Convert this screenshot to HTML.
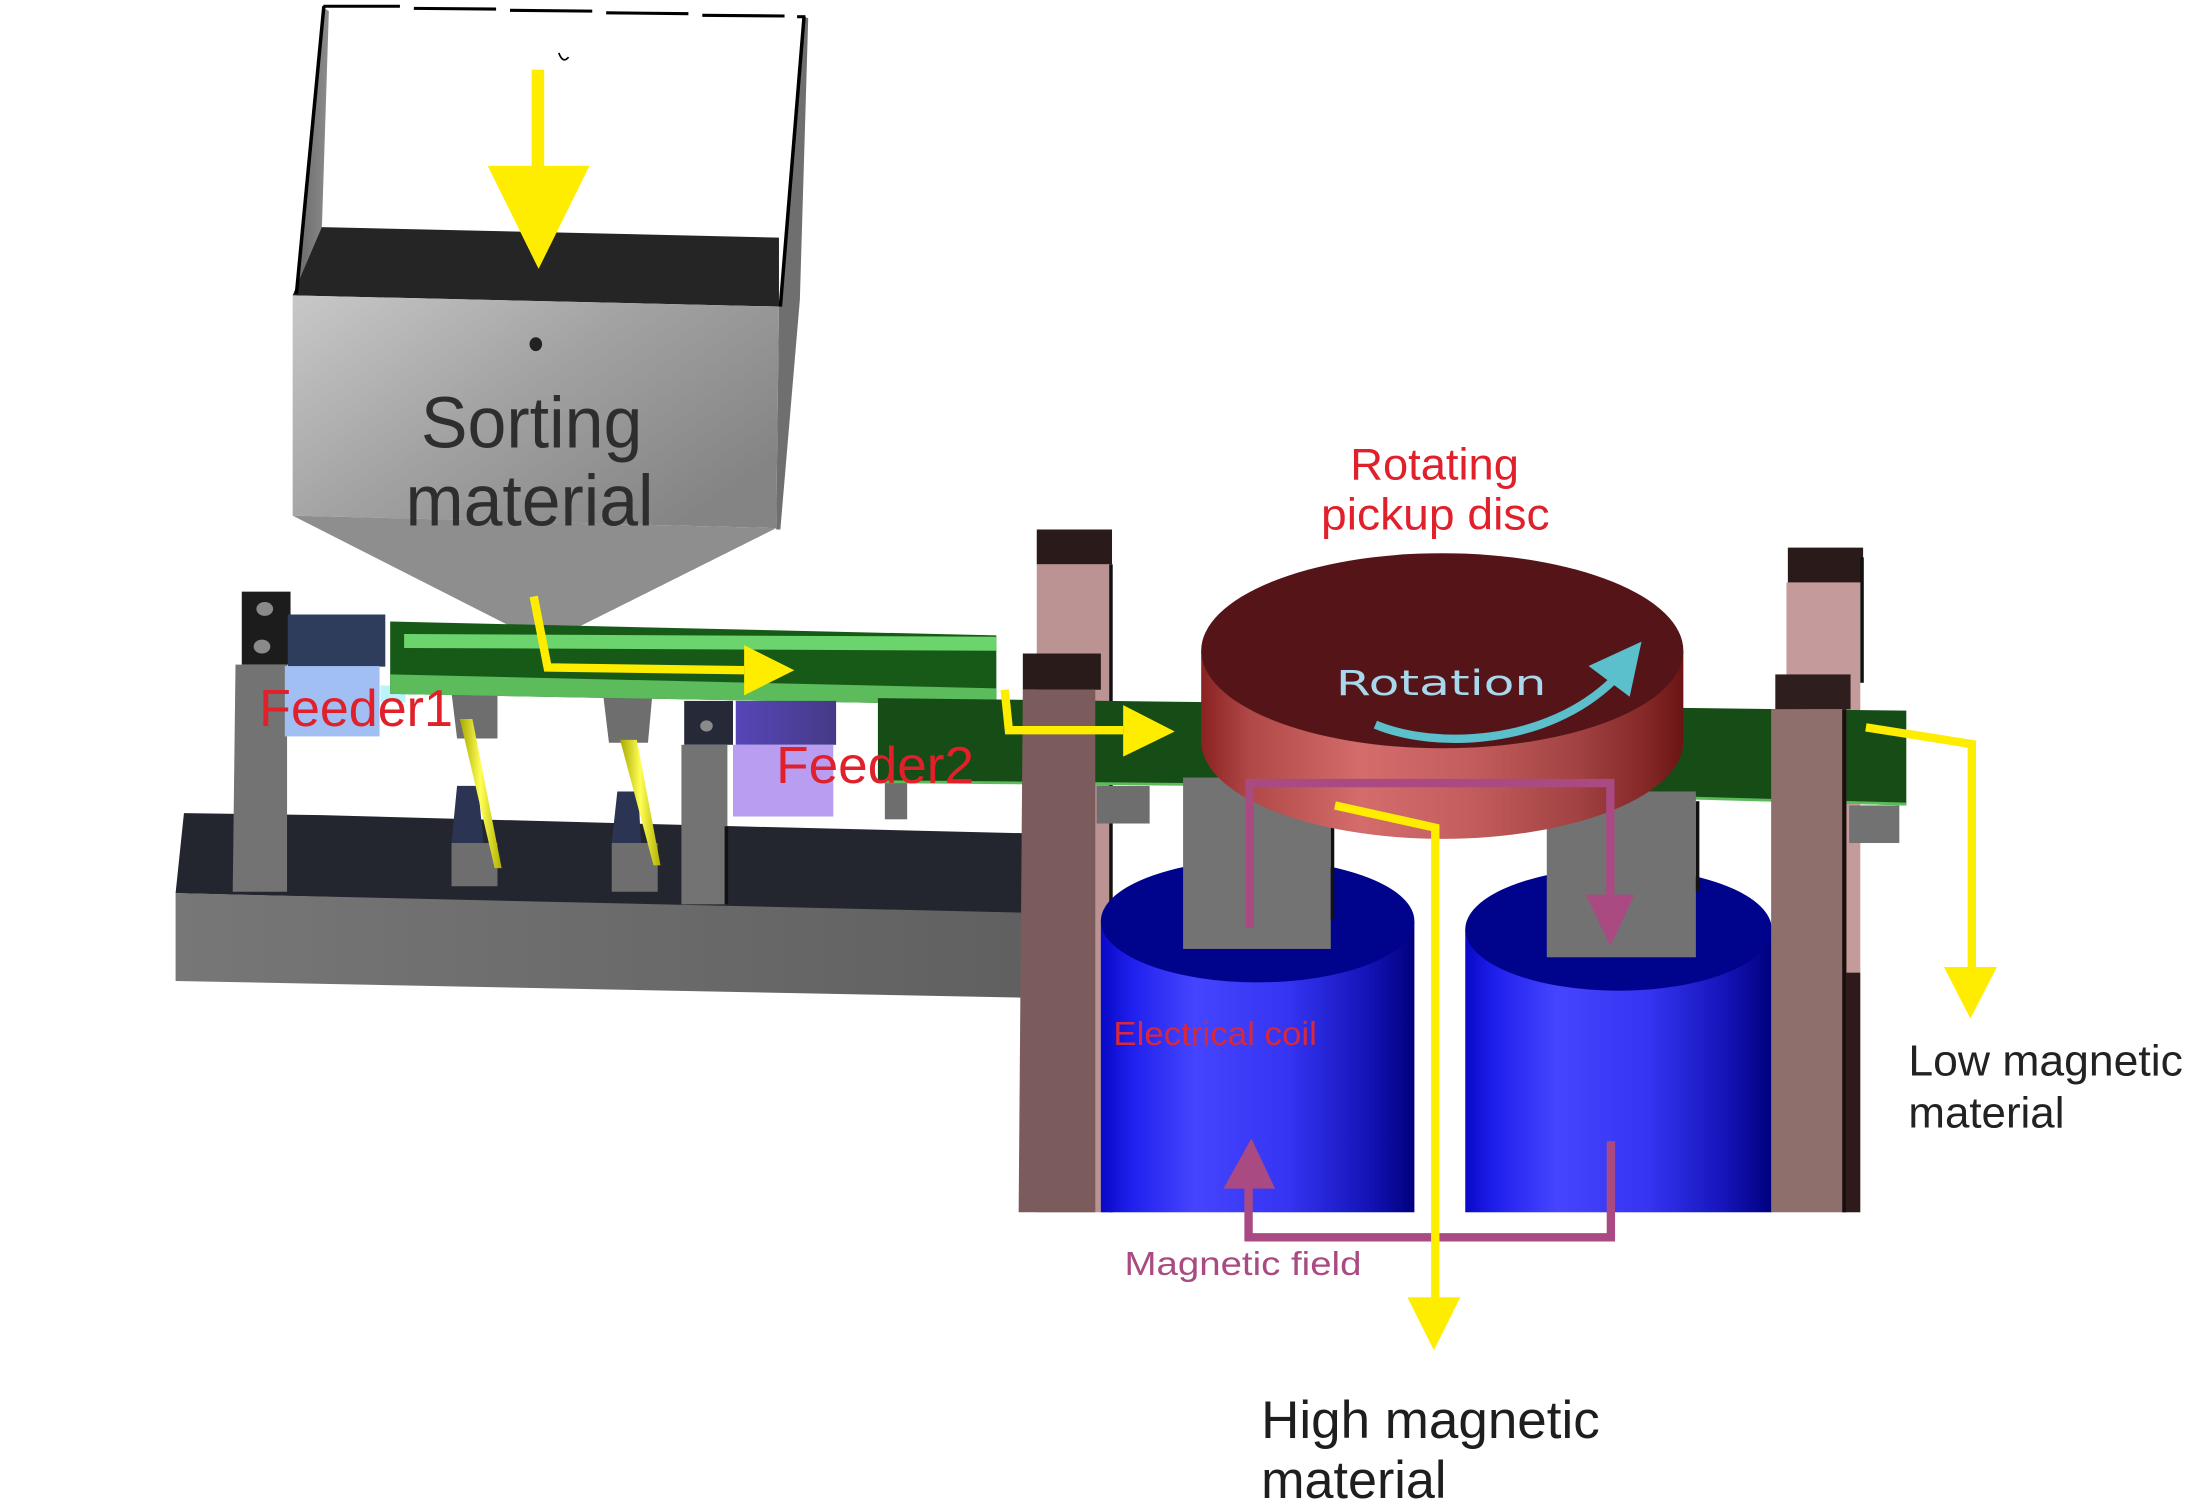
<!DOCTYPE html>
<html><head><meta charset="utf-8"><style>html,body{margin:0;padding:0;background:#fff;}svg{display:block;}</style></head>
<body>
<svg width="2185" height="1501" viewBox="0 0 1568 1077.2" preserveAspectRatio="none" xmlns="http://www.w3.org/2000/svg" font-family="'Liberation Sans', Arial, sans-serif">
<defs>
<linearGradient id="gFace" x1="0" y1="0" x2="1" y2="0.7"><stop offset="0" stop-color="#c8c8c8"/><stop offset="0.5" stop-color="#a2a2a2"/><stop offset="1" stop-color="#848484"/></linearGradient>
<linearGradient id="gL" x1="0" y1="0" x2="1" y2="0"><stop offset="0" stop-color="#6a6a6a"/><stop offset="1" stop-color="#8c8c8c"/></linearGradient>
<linearGradient id="gSlab" x1="0" y1="0" x2="1" y2="0"><stop offset="0" stop-color="#777"/><stop offset="1" stop-color="#606060"/></linearGradient>
<linearGradient id="gPin" x1="0" y1="0" x2="1" y2="0"><stop offset="0" stop-color="#a8a800"/><stop offset="0.5" stop-color="#ffff55"/><stop offset="1" stop-color="#b0b000"/></linearGradient>
<linearGradient id="gF2" x1="0" y1="0" x2="1" y2="0"><stop offset="0" stop-color="#5646b8"/><stop offset="1" stop-color="#453a86"/></linearGradient>
<linearGradient id="gDisc" x1="0" y1="0" x2="1" y2="0"><stop offset="0" stop-color="#8a2222"/><stop offset="0.1" stop-color="#b04848"/><stop offset="0.33" stop-color="#d46c6c"/><stop offset="0.55" stop-color="#c45e5e"/><stop offset="0.78" stop-color="#a24242"/><stop offset="0.92" stop-color="#862828"/><stop offset="1" stop-color="#6a1414"/></linearGradient>
<linearGradient id="gCoil" x1="0" y1="0" x2="1" y2="0"><stop offset="0" stop-color="#0808c8"/><stop offset="0.1" stop-color="#2020ee"/><stop offset="0.3" stop-color="#4545ff"/><stop offset="0.6" stop-color="#3434f2"/><stop offset="0.85" stop-color="#1414b8"/><stop offset="1" stop-color="#00007e"/></linearGradient>
</defs>
<rect x="0" y="0" width="1568" height="1078" fill="#fff"/>

<!-- Hopper -->
<polygon points="233,6 236,8 231,163 231,212 213,211" fill="url(#gL)"/>
<polygon points="576,12 580,13 574,215 560,380 557,380 559,220" fill="#6f6f6f"/>
<polygon points="231,163 559,170.5 559,220 210,212" fill="#252525"/>
<polygon points="210,212 559,220 557,379 210,370" fill="url(#gFace)"/>
<polygon points="210,370 557,379 391,462" fill="#8e8e8e"/>
<line x1="232.4" y1="4.5" x2="212.7" y2="211" stroke="#000" stroke-width="2.5"/>
<line x1="577" y1="12" x2="560" y2="220" stroke="#000" stroke-width="2.5"/>
<g stroke="#000" stroke-width="2.2">
<line x1="232" y1="4.5" x2="287" y2="4.5"/>
<line x1="297" y1="6" x2="356" y2="6.5"/>
<line x1="366" y1="7.4" x2="425" y2="8"/>
<line x1="435" y1="9.2" x2="494" y2="9.8"/>
<line x1="504" y1="11" x2="563" y2="11.5"/>
<line x1="572" y1="12" x2="578" y2="12"/>
</g>
<path d="M401,38 Q404,46 408,41" stroke="#000" stroke-width="1.2" fill="none"/>
<ellipse cx="384.5" cy="247" rx="4.5" ry="5" fill="#222"/>
<text x="302" y="321" font-size="52" fill="#2e2e2e" textLength="159" lengthAdjust="spacingAndGlyphs">Sorting</text>
<text x="291" y="377" font-size="52" fill="#2e2e2e" textLength="178" lengthAdjust="spacingAndGlyphs">material</text>
<rect x="381.5" y="50" width="9" height="72" fill="#ffed00"/>
<polygon points="350,119 423,119 386.5,193" fill="#ffed00"/>

<!-- Left machine -->
<polygon points="132,583.5 231,585 528,593 736,598 736,656 126,641" fill="#23262e"/>
<polygon points="126,641 736,655 736,716 126,704" fill="url(#gSlab)"/>
<rect x="173.5" y="424.6" width="35" height="52.4" fill="#1c1c1c"/>
<ellipse cx="190" cy="437" rx="6" ry="5" fill="#8a8a8a"/>
<ellipse cx="188" cy="464" rx="6" ry="5" fill="#8a8a8a"/>
<polygon points="169,477 206,477 206,640 167,640" fill="#737373"/>
<rect x="206.5" y="441" width="70" height="37.4" fill="#2f3d5c"/>
<rect x="204.4" y="478" width="68" height="50.5" fill="#a2bff4"/>
<rect x="273" y="492" width="18" height="12" fill="#b8f4fa"/>

<polygon points="324,497 357,497 357,530 328,530" fill="#6e6e6e"/>
<polygon points="433,500 468,500 465,533 437,533" fill="#6e6e6e"/>
<polygon points="328,564 343,564 347,605 324,605" fill="#2b3452"/>
<polygon points="324,605 357,605 357,636 324,636" fill="#6e6e6e"/>
<polygon points="443,568 458,568 460,605 439,605" fill="#2b3452"/>
<polygon points="439,605 472,605 472,640 439,640" fill="#6e6e6e"/>
<polygon points="330,516 339,516 360,623 355,623" fill="url(#gPin)"/>
<polygon points="445,531 457,531 474,621 469,621" fill="url(#gPin)"/>

<polygon points="280,446 715,456 715,506 280,498" fill="#175a17"/>
<polygon points="290,455 715,457 715,467 290,465" fill="#6cd46c"/>
<polygon points="280,484 715,494 715,506 280,498" fill="#5cbc5c"/>

<rect x="491" y="503" width="35" height="31.5" fill="#262a38"/>
<ellipse cx="507" cy="521" rx="4.5" ry="4" fill="#8a8a8a"/>
<rect x="489" y="534.5" width="33" height="114.5" fill="#737373"/>
<rect x="520" y="593" width="2.5" height="56" fill="#111"/>
<rect x="528" y="503" width="72" height="31.5" fill="url(#gF2)"/>
<rect x="526" y="534.5" width="72" height="51.5" fill="#b89df0"/>

<!-- Right machine: back posts -->
<rect x="744" y="380" width="54" height="25" fill="#2a1a1a"/>
<rect x="744" y="405" width="53" height="465" fill="#bb9393"/>
<rect x="796" y="405" width="2.5" height="465" fill="#111"/>
<rect x="1283" y="393" width="54" height="25" fill="#2a1a1a"/>
<rect x="1282" y="418" width="53" height="280" fill="#c49a9a"/>
<rect x="1335" y="400" width="2.5" height="90" fill="#111"/>
<rect x="1323" y="698" width="12" height="172" fill="#2e1a1a"/>

<!-- Green bar 2 -->
<polygon points="630,501 1368,510 1368,578 862,563 630,561" fill="#164c16"/>
<polyline points="630,561 862,563 1368,577" fill="none" stroke="#5cbc5c" stroke-width="2"/>
<rect x="635" y="562" width="16" height="26" fill="#6e6e6e"/>
<rect x="787" y="564" width="38" height="27" fill="#6e6e6e"/>
<rect x="1327" y="578" width="36" height="27" fill="#727272"/>

<!-- Coils -->
<rect x="790" y="661" width="225" height="209" fill="url(#gCoil)"/>
<ellipse cx="902.5" cy="661" rx="112.5" ry="44" fill="#00048c"/>
<rect x="1051.5" y="667" width="220" height="203" fill="url(#gCoil)"/>
<ellipse cx="1161.5" cy="667" rx="110" ry="44" fill="#00048c"/>

<!-- Cores -->
<rect x="849" y="558" width="106" height="123" fill="#737373"/>
<rect x="955" y="565" width="2.5" height="95" fill="#111"/>
<rect x="1110" y="568" width="107" height="119" fill="#727272"/>
<rect x="1217" y="575" width="2.5" height="65" fill="#111"/>

<!-- Disc -->
<path d="M862,467 L862,532 A173,70 0 0 0 1208,532 L1208,467 Z" fill="url(#gDisc)"/>
<ellipse cx="1035" cy="467" rx="173" ry="70" fill="#551518"/>

<!-- Front posts -->
<rect x="734" y="469" width="56" height="26" fill="#2a1b1b"/>
<polygon points="734,495 786,495 786,870 731,870" fill="#7b5b5b"/>
<rect x="1274" y="484" width="54" height="25" fill="#2e1e1e"/>
<rect x="1271" y="509" width="54" height="361" fill="#8e6f6c"/>
<rect x="1322" y="509" width="3" height="361" fill="#1a0e0e"/>

<!-- Rotation -->
<text x="958.7" y="498.8" font-size="25" fill="#a8d8ec" font-family="'DejaVu Sans', 'Liberation Sans', sans-serif" textLength="151" lengthAdjust="spacingAndGlyphs">Rotation</text>
<path d="M987,520 C1030,538 1110,535 1158,488" stroke="#5bbfcc" stroke-width="6" fill="none"/>
<polygon points="1140,478 1178,460.5 1169.5,500" fill="#5bbfcc"/>

<!-- Magnetic field lines -->
<g stroke="#aa4a82" stroke-width="6" fill="none">
<polyline points="896.8,666 896.8,562 1155.6,562 1155.6,645"/>
<polyline points="1156,819 1156,888 896,888 896,852"/>
</g>
<polygon points="1138,642 1173,642 1155.6,679" fill="#aa4a82"/>
<polygon points="878,853 915,853 898,817" fill="#aa4a82"/>

<!-- Yellow flow arrows -->
<g stroke="#ffed00" stroke-width="6" fill="none" stroke-linejoin="miter">
<polyline points="383,428 393,479 534,481"/>
<polyline points="721,495 724,524 806,524"/>
<polyline points="958,578 1030,594 1030,932"/>
<polyline points="1339,522 1415,534 1415,695"/>
</g>
<polygon points="534,463 534,499 570,481" fill="#ffed00"/>
<polygon points="806,506 806,543 843,525" fill="#ffed00"/>
<polygon points="1010,931 1048,931 1029,969" fill="#ffed00"/>
<polygon points="1395,694 1433,694 1414,731" fill="#ffed00"/>

<!-- Labels -->
<text x="186" y="521" font-size="37" fill="#e0202a" textLength="139" lengthAdjust="spacingAndGlyphs">Feeder1</text>
<text x="557" y="562" font-size="37" fill="#e0202a" textLength="142" lengthAdjust="spacingAndGlyphs">Feeder2</text>
<text x="969" y="344" font-size="32" fill="#e0202a" textLength="121" lengthAdjust="spacingAndGlyphs">Rotating</text>
<text x="948" y="380" font-size="32" fill="#e0202a" textLength="164" lengthAdjust="spacingAndGlyphs">pickup disc</text>
<text x="799" y="750" font-size="24" fill="#d8283a" textLength="146" lengthAdjust="spacingAndGlyphs">Electrical coil</text>
<text x="807" y="915" font-size="24" fill="#aa4a82" textLength="170" lengthAdjust="spacingAndGlyphs">Magnetic field</text>
<text x="1369.5" y="772" font-size="31" fill="#222" textLength="197" lengthAdjust="spacingAndGlyphs">Low magnetic</text>
<text x="1369.5" y="809" font-size="31" fill="#222" textLength="112" lengthAdjust="spacingAndGlyphs">material</text>
<text x="905" y="1032" font-size="38" fill="#1e1e1e" textLength="243" lengthAdjust="spacingAndGlyphs">High magnetic</text>
<text x="905" y="1075" font-size="38" fill="#1e1e1e" textLength="133" lengthAdjust="spacingAndGlyphs">material</text>
</svg>
</body></html>
